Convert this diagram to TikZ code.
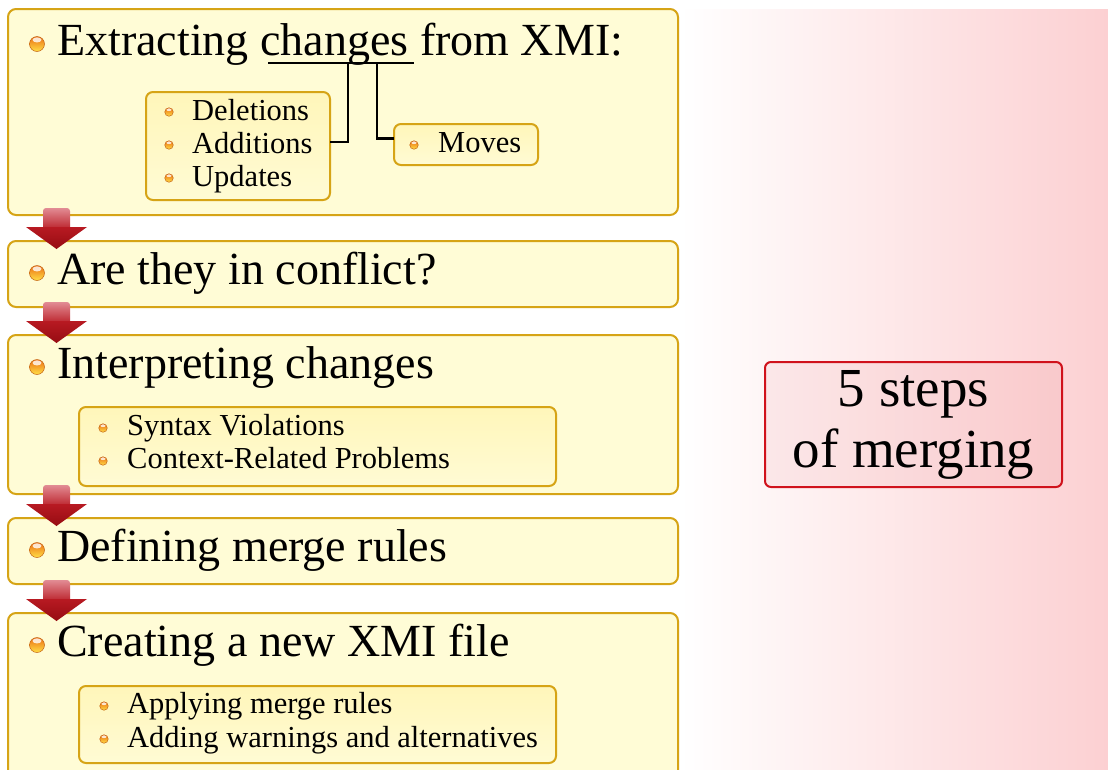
\documentclass[tikz,border=0pt]{standalone}
\usepackage{fontspec}
\setmainfont{Liberation Serif}
\usetikzlibrary{calc}
\definecolor{boxfill}{RGB}{255,252,214}
\definecolor{subtop}{RGB}{255,246,186}
\definecolor{subbot}{RGB}{255,251,212}
\definecolor{gold}{RGB}{214,164,22}
\definecolor{blush}{RGB}{252,208,210}
\definecolor{alarm}{RGB}{208,18,28}
\definecolor{arrowdark}{RGB}{150,12,18}
\definecolor{arrowmid}{RGB}{184,26,34}
\definecolor{arrowlight}{RGB}{226,140,148}
\definecolor{orbtop}{RGB}{236,112,20}
\definecolor{orbbot}{RGB}{255,222,70}
\definecolor{orbrim}{RGB}{196,100,20}

\begin{document}
\begin{tikzpicture}[x=1pt,y=-1pt,
  panel/.style={draw=gold, line width=2pt, rounded corners=8pt, fill=boxfill,
    anchor=north west, inner sep=0pt, outer sep=0pt},
  subpanel/.style={draw=gold, line width=2pt, rounded corners=7pt,
    top color=subtop, bottom color=subbot, anchor=north west, inner sep=0pt, outer sep=0pt},
  headtext/.style={anchor=base west, inner sep=0pt, font=\fontsize{46}{52}\selectfont},
  itemtext/.style={anchor=base west, inner sep=0pt, font=\fontsize{30.5}{36}\selectfont},
  orb/.style={circle, inner sep=0pt, draw=orbrim, line width=0.5pt,
    top color=orbtop, bottom color=orbbot,
    path picture={\fill[white, opacity=0.8]
      ($(path picture bounding box.center)!0.55!(path picture bounding box.north)$)
      ellipse [x radius=0.3*#1, y radius=0.17*#1];}},
  bigorb/.style={orb=15pt, minimum size=15pt},
  smallorb/.style={orb=8.5pt, minimum size=8.5pt},
  conn/.style={draw=black, line width=2.8pt},
]
\useasboundingbox (0,0) rectangle (1108,769);
\clip (0,0) rectangle (1108,769);

% backdrop: white fading into pink on the right
\fill[white] (0,0) rectangle (1108,769);
\shade[left color=white, right color=blush] (680,9) rectangle (1108,769);

% ---- five step panels ----
\node[panel, minimum width=670pt, minimum height=206pt] (p1) at (8,9) {};
\node[panel, minimum width=670pt, minimum height=66pt]  (p2) at (8,241) {};
\node[panel, minimum width=670pt, minimum height=159pt] (p3) at (8,335) {};
\node[panel, minimum width=670pt, minimum height=66pt]  (p4) at (8,518) {};
\node[panel, minimum width=670pt, minimum height=180pt] (p5) at (8,613) {};

% headings
\node[bigorb] (o1) at (37,44) {};
\node[headtext] (h1) at (57,55) {Extracting changes from XMI:};
\node[bigorb] (o2) at (37,273) {};
\node[headtext] (h2) at (57,284) {Are they in conflict?};
\node[bigorb] (o3) at (37,367) {};
\node[headtext] (h3) at (57,378) {Interpreting changes};
\node[bigorb] (o4) at (37,550) {};
\node[headtext] (h4) at (57,561) {Defining merge rules};
\node[bigorb] (o5) at (37,645) {};
\node[headtext] (h5) at (57,656) {Creating a new XMI file};

% ---- step 1 details ----
\node[subpanel, minimum width=184pt, minimum height=108pt] (s1) at (146,92) {};
\node[smallorb] (d1) at (169,112) {};
\node[itemtext] (t1) at (192,120) {Deletions};
\node[smallorb] (d2) at (169,145) {};
\node[itemtext] (t2) at (192,153) {Additions};
\node[smallorb] (d3) at (169,178) {};
\node[itemtext] (t3) at (192,186) {Updates};

\node[subpanel, minimum width=144pt, minimum height=41pt] (mv) at (394,124) {};
\node[smallorb] (d4) at (414,145) {};
\node[itemtext] (t4) at (438,152) {Moves};

% underline of "changes" and its two branches
\coordinate (ulL) at (268,63);
\coordinate (ulR) at (414,63);
\coordinate (tapA) at (348,63);
\coordinate (tapB) at (377,63);
\draw[conn] (ulL) -- (ulR);
\draw[conn] (tapA) |- ([yshift=4pt]s1.east);
\draw[conn] (tapB) |- ([yshift=6pt]mv.west);

% ---- step 3 details ----
\node[subpanel, minimum width=477pt, minimum height=79pt] (s3) at (79,407) {};
\node[smallorb] (d5) at (103,428) {};
\node[itemtext] (t5) at (127,435) {Syntax Violations};
\node[smallorb] (d6) at (103,461) {};
\node[itemtext] (t6) at (127,468) {Context-Related Problems};

% ---- step 5 details ----
\node[subpanel, minimum width=477pt, minimum height=77pt] (s5) at (79,686) {};
\node[smallorb] (d7) at (104,706) {};
\node[itemtext] (t7) at (127,713) {Applying merge rules};
\node[smallorb] (d8) at (104,739) {};
\node[itemtext] (t8) at (127,747) {Adding warnings and alternatives};

% ---- red block arrows between the steps ----
\foreach \t in {241,335,518,613}{
  \shade[top color=arrowlight, bottom color=arrowmid, rounded corners=3pt]
    (43,\t-33) rectangle (70,\t-10);
  \shade[top color=arrowmid, bottom color=arrowdark]
    (26,\t-14) -- (87,\t-14) -- (56.5,\t+8) -- cycle;
}

% ---- caption box ----
\node[draw=alarm, line width=2pt, rounded corners=6pt, fill=alarm, fill opacity=0.06,
  text opacity=1, anchor=north west, minimum width=297pt, minimum height=125pt,
  inner sep=0pt] (cap) at (764,361) {};
\node[align=center, inner sep=0pt, font=\fontsize{55}{61}\selectfont] (captext)
  at (cap.center) {5 steps\\ of merging};
\end{tikzpicture}
\end{document}
